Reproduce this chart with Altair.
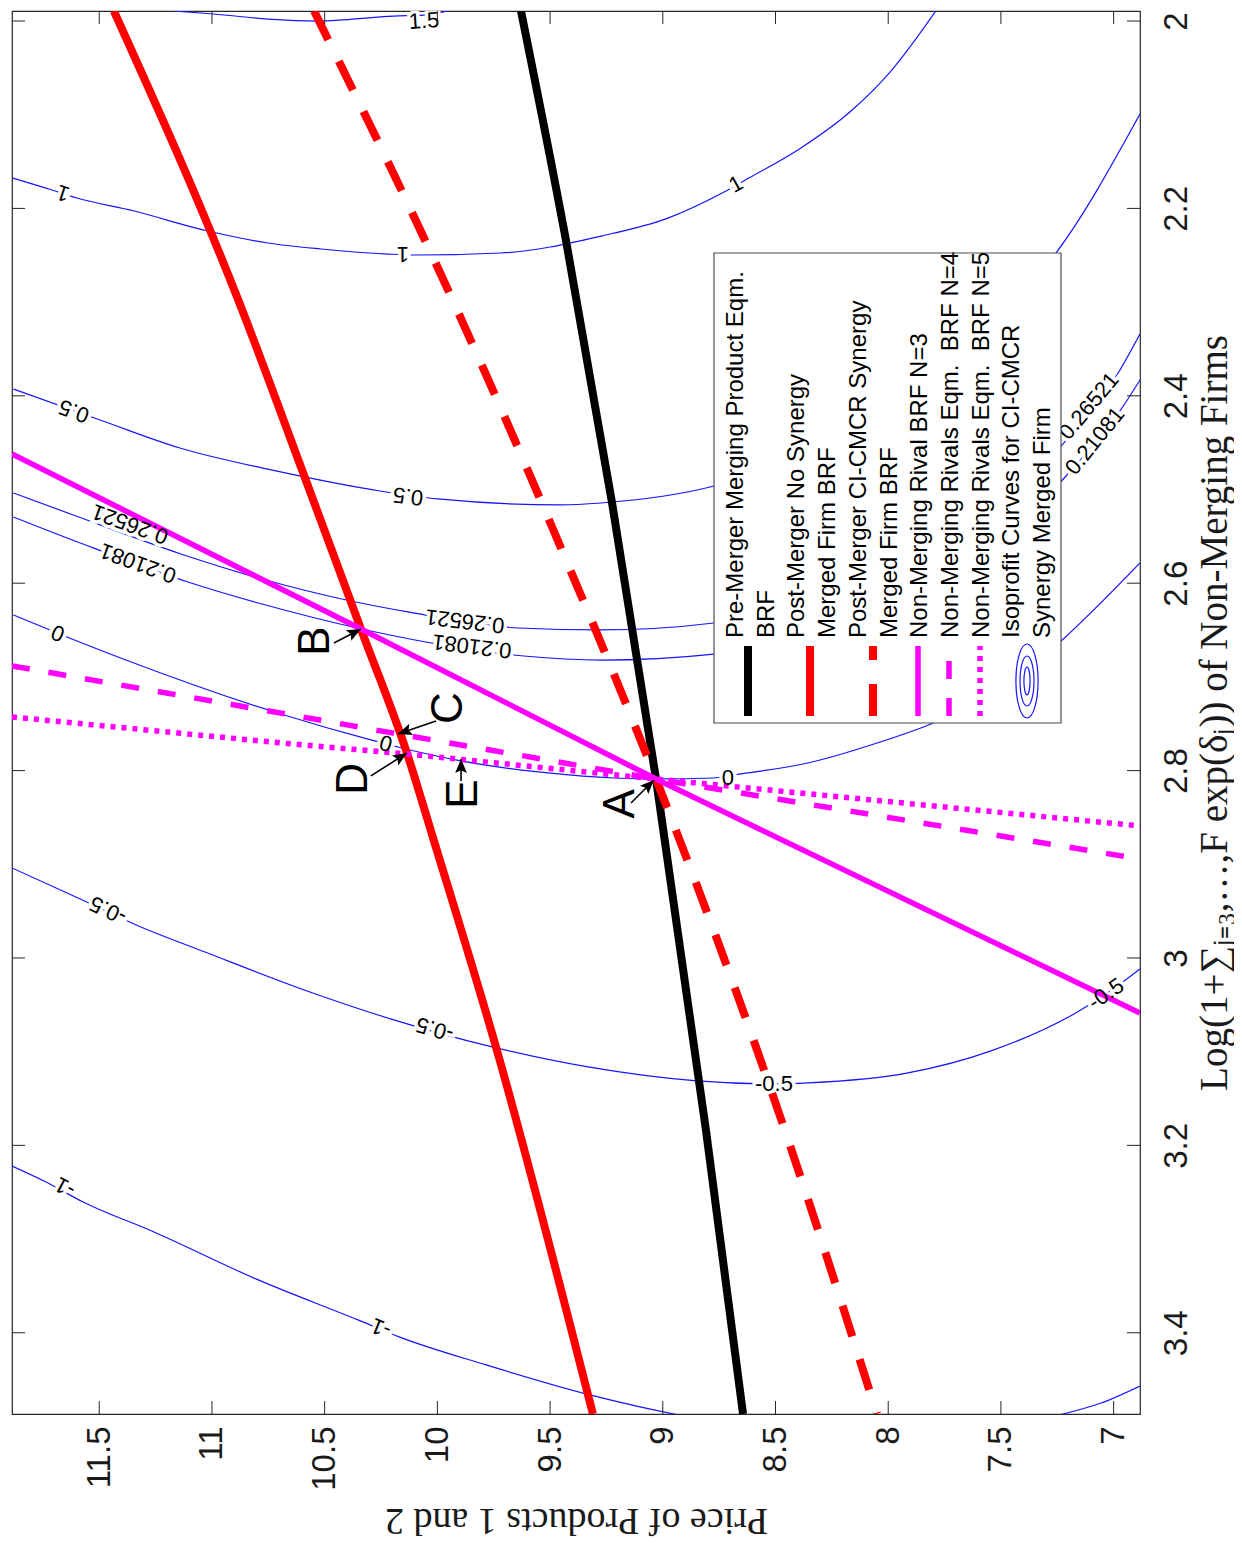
import math
import altair as alt
import pandas as pd

# ---------------- axes ----------------
price_ticks = [7, 7.5, 8, 8.5, 9, 9.5, 10, 10.5, 11, 11.5]
logsum_ticks = [2, 2.2, 2.4, 2.6, 2.8, 3, 3.2, 3.4]
price_domain = [6.883, 11.887]
logsum_domain = [1.9893, 3.4867]

# ---------------- best response functions (price, logsum) ----------------
pre_brf_p = [9.629, 9.429, 9.225, 9.030, 8.808, 8.644]
pre_brf_L = [1.9893, 2.2348, 2.5144, 2.809, 3.1846, 3.4867]

nosyn_brf_p = [11.435, 10.885, 10.587, 10.339, 10.135, 10.015, 9.740, 9.310]
nosyn_brf_L = [1.9893, 2.2967, 2.4877, 2.6489, 2.7812, 2.8751, 3.0950, 3.4867]

syn_brf_p = [10.547, 9.971, 9.478, 9.030, 8.462, 8.050]
syn_brf_L = [1.9893, 2.2775, 2.5475, 2.809, 3.1814, 3.4867]

rival3_p = [11.887, 10.339, 9.030, 6.883]
rival3_L = [2.4621, 2.6489, 2.809, 3.0587]

rival4_p = [11.887, 10.672, 10.175, 9.030, 6.883]
rival4_L = [2.6883, 2.7396, 2.7609, 2.809, 2.8943]

rival5_p = [11.887, 10.694, 10.135, 9.030, 6.883]
rival5_L = [2.7428, 2.7705, 2.7823, 2.809, 2.8591]

# ---------------- isoprofit curves ----------------
c15_p = [11.173, 10.991, 10.752, 10.530, 10.193, 10.059, 9.953]
c15_L = [1.9893, 1.9925, 1.9979, 2.000, 1.9947, 1.9936, 1.9893]

c1_p = [11.883, 11.723, 11.599, 11.346, 11.018, 10.752, 10.516, 10.219, 10.095,
        9.718, 9.274, 8.977, 8.728, 8.618, 8.387, 8.165, 7.988, 7.783]
c1_L = [2.1676, 2.1793, 2.1889, 2.2028, 2.2241, 2.2369, 2.2433, 2.2487, 2.2497,
        2.2476, 2.2295, 2.2103, 2.1825, 2.1676, 2.1355, 2.0961, 2.0534, 1.9872]

c05_p = [11.881, 11.484, 11.142, 10.716, 10.255, 9.997, 9.452, 9.274, 8.773,
         8.165, 7.721, 7.256, 6.883]
c05_L = [2.3927, 2.4269, 2.4557, 2.4802, 2.5016, 2.5101, 2.5165, 2.5144, 2.4963,
         2.4376, 2.3522, 2.2476, 2.0993]

c026_p = [11.881, 11.603, 11.138, 10.778, 10.383, 10.130, 9.638, 9.274, 8.773,
          8.165, 7.721, 7.233, 6.980, 6.883]
c026_L = [2.5037, 2.5283, 2.5688, 2.5955, 2.6190, 2.6307, 2.6478, 2.6499, 2.6425,
          2.6083, 2.5550, 2.4536, 2.3757, 2.3340]

c021_p = [11.881, 11.572, 11.107, 10.778, 10.335, 10.099, 9.616, 9.274, 8.773,
          8.165, 7.721, 7.211, 6.954, 6.883]
c021_L = [2.5293, 2.5582, 2.5987, 2.6222, 2.6489, 2.6606, 2.6777, 2.6820, 2.6756,
          2.6457, 2.5976, 2.4856, 2.4098, 2.3831]

c0_p = [11.881, 11.621, 11.382, 10.694, 10.295, 10.175, 9.895, 9.509, 9.217,
        9.026, 8.777, 8.653, 8.356, 8.063, 7.810, 7.500, 7.233, 6.883]
c0_L = [2.6339, 2.6595, 2.6819, 2.7396, 2.7673, 2.7748, 2.7897, 2.8025, 2.8079,
        2.8089, 2.8079, 2.8036, 2.7919, 2.7716, 2.7502, 2.7150, 2.6617, 2.5784]

cm05_p = [11.887, 11.594, 11.315, 11.031, 10.578, 10.193, 9.864, 9.332, 8.848,
          8.507, 8.351, 7.912, 7.544, 7.176, 7.034, 6.883]
cm05_L = [2.9039, 2.9359, 2.9669, 2.9936, 3.0352, 3.0661, 3.0885, 3.1163, 3.1312,
          3.1344, 3.1333, 3.1227, 3.0992, 3.0597, 3.0384, 3.0117]

cm1_p = [11.887, 11.745, 11.572, 11.257, 10.805, 10.352, 10.170, 9.784, 9.323,
         8.950, 8.520, 8.076, 7.633, 7.224, 7.056, 6.883]
cm1_L = [3.2220, 3.2380, 3.2604, 3.2924, 3.3425, 3.3863, 3.4044, 3.4343, 3.4663,
         3.4867, 3.5026, 3.5101, 3.5026, 3.4867, 3.4750, 3.4568]

# contour labels (inline clabels)
clabel_text = ["1.5", "1", "1", "1", "0.5", "0.5", "0.26521", "0.21081", "0.26521",
               "0.21081", "0.26521", "0.21081", "0", "0", "0", "-0.5", "-0.5",
               "-0.5", "-0.5", "-1", "-1"]
clabel_p = [10.059, 11.661, 10.153, 8.675, 11.612, 10.130, 11.364, 11.328, 9.878,
            9.847, 7.109, 7.083, 11.683, 10.228, 8.711, 11.461, 10.011, 8.507,
            7.034, 11.652, 10.250]
clabel_L = [2.0000, 2.1836, 2.2487, 2.1740, 2.4162, 2.5069, 2.5368, 2.5784, 2.6403,
            2.6670, 2.4109, 2.4482, 2.6531, 2.7705, 2.8079, 2.9487, 3.0757, 3.1344,
            3.0384, 3.2444, 3.3948]
clabel_angle = [356, 198, 180, 331, 200, 187, 200, 200, 187, 187, 310, 309, 202, 195,
                0, 205, 196, 0, 326, 208, 202]

# equilibrium points A-E with arrows
point_names = ["A", "B", "C", "D", "E"]
point_label_p = [9.185, 10.539, 9.949, 10.370, 9.882]
point_label_L = [2.8356, 2.6617, 2.7332, 2.8089, 2.8250]
arrow_tail_p = [9.141, 10.459, 10.006, 10.295, 9.895]
arrow_tail_L = [2.8346, 2.6638, 2.7470, 2.8057, 2.8111]
arrow_tip_p = [9.039, 10.339, 10.175, 10.135, 9.895]
arrow_tip_L = [2.8100, 2.6489, 2.7609, 2.7812, 2.7876]

legend_lines = [
    "Pre-Merger Merging Product Eqm.",
    "BRF",
    "Post-Merger No Synergy",
    "\u00a0\u00a0Merged Firm BRF",
    "Post-Merger CI-CMCR Synergy",
    "Merged Firm BRF",
    "Non-Merging Rival BRF N=3",
    "Non-Merging Rivals Eqm.\u00a0 BRF N=4",
    "Non-Merging Rivals Eqm.\u00a0 BRF N=5",
    "Isoprofit Curves for CI-CMCR",
    "Synergy Merged Firm",
]

# ---------------- chart ----------------
W, H = 1128, 1403
INK = "#1a1a1a"
BLUE = "#1414ff"

xs = alt.Scale(domain=price_domain, reverse=True, nice=False, zero=False)
ys = alt.Scale(domain=logsum_domain, reverse=True, nice=False, zero=False)

x_axis = alt.Axis(
    values=price_ticks, format="~g", labelAngle=270, labelAlign="right",
    labelBaseline="middle", labelFont="Liberation Sans", labelFontSize=33,
    labelColor=INK, labelPadding=12, labelFlush=False, labelOverlap=False,
    ticks=False, tickSize=0, domain=False, grid=False,
    title="Price of Products 1 and 2", titleFont="Liberation Serif",
    titleFontSize=38, titleFontWeight="normal", titleColor=INK, titleAngle=180,
    titleAlign="center", titleBaseline="middle", titleX=W / 2, titleY=105,
)
y_axis = alt.Axis(
    orient="right", values=logsum_ticks, format="~g", labelAngle=270,
    labelAlign="center", labelBaseline="top", labelFont="Liberation Sans",
    labelFontSize=33, labelColor=INK, labelPadding=20, labelFlush=False,
    labelOverlap=False, ticks=False, tickSize=0, domain=False, grid=False,
    title="Log(1+\u2211\u2c7c\u208c\u2083,\u2026,F exp(\u03b4\u2c7c)) of Non-Merging Firms",
    titleFont="Liberation Serif", titleFontSize=39, titleFontWeight="normal",
    titleColor=INK, titleAngle=270, titleAlign="center", titleBaseline="middle",
    titleX=74, titleY=H / 2,
)


def X(field="p"):
    return alt.X(f"{field}:Q", scale=xs, axis=x_axis)


def Y(field="L"):
    return alt.Y(f"{field}:Q", scale=ys, axis=y_axis)


contour_sets = [
    ("1.5", c15_p, c15_L), ("1", c1_p, c1_L), ("0.5", c05_p, c05_L),
    ("0.26521", c026_p, c026_L), ("0.21081", c021_p, c021_L), ("0", c0_p, c0_L),
    ("-0.5", cm05_p, cm05_L), ("-1", cm1_p, cm1_L),
]
contour_df = pd.concat(
    [pd.DataFrame({"p": p, "L": L, "level": lv}) for lv, p, L in contour_sets],
    ignore_index=True,
)

contours = alt.Chart(contour_df).mark_line(
    clip=True, color=BLUE, strokeWidth=1.2, interpolate="monotone"
).encode(
    x=X(), y=Y(), detail="level:N", order=alt.Order("p:Q", sort="descending"),
)

clabel_df = pd.DataFrame({"t": clabel_text, "p": clabel_p, "L": clabel_L, "ang": clabel_angle})
halo = alt.Chart(clabel_df).mark_text(
    font="Liberation Sans", fontSize=22, fill="white", stroke="white",
    strokeWidth=7, align="center", baseline="middle", clip=True,
).encode(x=X(), y=Y(), text="t:N", angle=alt.Angle("ang:Q", scale=None))
clabels = alt.Chart(clabel_df).mark_text(
    font="Liberation Sans", fontSize=22, color="black", align="center",
    baseline="middle", clip=True,
).encode(x=X(), y=Y(), text="t:N", angle=alt.Angle("ang:Q", scale=None))


def brf(p, L, color, width, dash=None, interp="monotone"):
    kw = dict(clip=True, color=color, strokeWidth=width, interpolate=interp, strokeCap="butt")
    if dash:
        kw["strokeDash"] = dash
    return alt.Chart(pd.DataFrame({"p": p, "L": L})).mark_line(**kw).encode(
        x=X(), y=Y(), order=alt.Order("p:Q", sort="descending")
    )


BLACK, RED, MAG = "#000000", "#ff0000", "#ff00ff"
lines = [
    brf(pre_brf_p, pre_brf_L, BLACK, 8),
    brf(nosyn_brf_p, nosyn_brf_L, RED, 8),
    brf(syn_brf_p, syn_brf_L, RED, 8, [32, 24]),
    brf(rival3_p, rival3_L, MAG, 5.5, interp="linear"),
    brf(rival4_p, rival4_L, MAG, 5.5, [18, 19], interp="linear"),
    brf(rival5_p, rival5_L, MAG, 5.5, [5, 6], interp="linear"),
]

# arrows
px_per_p = W / (price_domain[1] - price_domain[0])
px_per_L = H / (logsum_domain[1] - logsum_domain[0])
angles = []
for tp, tl, hp, hl in zip(arrow_tail_p, arrow_tail_L, arrow_tip_p, arrow_tip_L):
    dx = -(hp - tp) * px_per_p
    dy = (hl - tl) * px_per_L
    angles.append(math.degrees(math.atan2(dx, -dy)) % 360)
arrow_df = pd.DataFrame({"tp": arrow_tail_p, "tL": arrow_tail_L, "hp": arrow_tip_p,
                         "hL": arrow_tip_L, "ang": angles})
shafts = alt.Chart(arrow_df).mark_rule(color="black", strokeWidth=1.6).encode(
    x=X("tp"), y=Y("tL"), x2="hp:Q", y2="hL:Q"
)
heads = alt.Chart(arrow_df).mark_point(
    shape="M0,0L0.42,1L0,0.8L-0.42,1Z", size=784, filled=True, color="black",
    opacity=1, strokeWidth=0,
).encode(x=X("hp"), y=Y("hL"), angle=alt.Angle("ang:Q", scale=None))

letter_df = pd.DataFrame({"t": point_names, "p": point_label_p, "L": point_label_L})
letters = alt.Chart(letter_df).mark_text(
    font="Liberation Sans", fontSize=44, angle=270, color="black",
    align="center", baseline="middle",
).encode(x=X(), y=Y(), text="t:N")

# legend (drawn box in the plot area, rotated like the figure)
one = pd.DataFrame({"a": [0]})
legend_layers = [
    alt.Chart(one).mark_rect(fill="white", stroke="#4d4d4d", strokeWidth=1.2).encode(
        x=alt.value(702), x2=alt.value(1049), y=alt.value(242), y2=alt.value(712)
    )
]
for i, txt in enumerate(legend_lines):
    legend_layers.append(
        alt.Chart(one).mark_text(
            text=txt, font="Liberation Sans", fontSize=24, angle=270, color="black",
            align="left", baseline="middle",
        ).encode(x=alt.value(724 + i * 30.7), y=alt.value(627))
    )
legend_syms = [
    (736, BLACK, 8, None), (798, RED, 8, None), (861, RED, 8, [32, 24]),
    (906, MAG, 5.5, None), (937, MAG, 5.5, [18, 19]), (968, MAG, 5.5, [5, 6]),
]
for lx, col, sw, dash in legend_syms:
    kw = dict(color=col, strokeWidth=sw, strokeCap="butt")
    if dash:
        kw["strokeDash"] = dash
    legend_layers.append(
        alt.Chart(one).mark_rule(**kw).encode(
            x=alt.value(lx), x2=alt.value(lx), y=alt.value(705), y2=alt.value(635)
        )
    )
for size, rx in [(5476, 0.30), (2500, 0.28), (784, 0.22)]:
    legend_layers.append(
        alt.Chart(one).mark_point(
            shape=f"M0,-1A{rx},1,0,1,1,0,1A{rx},1,0,1,1,0,-1Z", size=size,
            filled=False, color=BLUE, strokeWidth=1.2, opacity=1,
        ).encode(x=alt.value(1015), y=alt.value(670))
    )

# inside ticks on all four sides (MATLAB box style)
tx_df = pd.DataFrame({"p": price_ticks})
ty_df = pd.DataFrame({"L": logsum_ticks})
TK = dict(color="#262626", strokeWidth=1)
tick_layers = [
    alt.Chart(tx_df).mark_rule(**TK).encode(x=X(), y=alt.value(H), y2=alt.value(H - 13)),
    alt.Chart(tx_df).mark_rule(**TK).encode(x=X(), y=alt.value(0), y2=alt.value(13)),
    alt.Chart(ty_df).mark_rule(**TK).encode(y=Y(), x=alt.value(0), x2=alt.value(13)),
    alt.Chart(ty_df).mark_rule(**TK).encode(y=Y(), x=alt.value(W), x2=alt.value(W - 13)),
]

chart = alt.layer(
    contours, halo, *lines, clabels, shafts, heads, letters, *legend_layers, *tick_layers
).properties(
    width=W, height=H, padding={"left": 3, "top": 2, "right": 0, "bottom": 4}
).configure_view(stroke="#262626", strokeWidth=1.2)

chart.save("out.html", embed_options={"renderer": "svg", "actions": False})
